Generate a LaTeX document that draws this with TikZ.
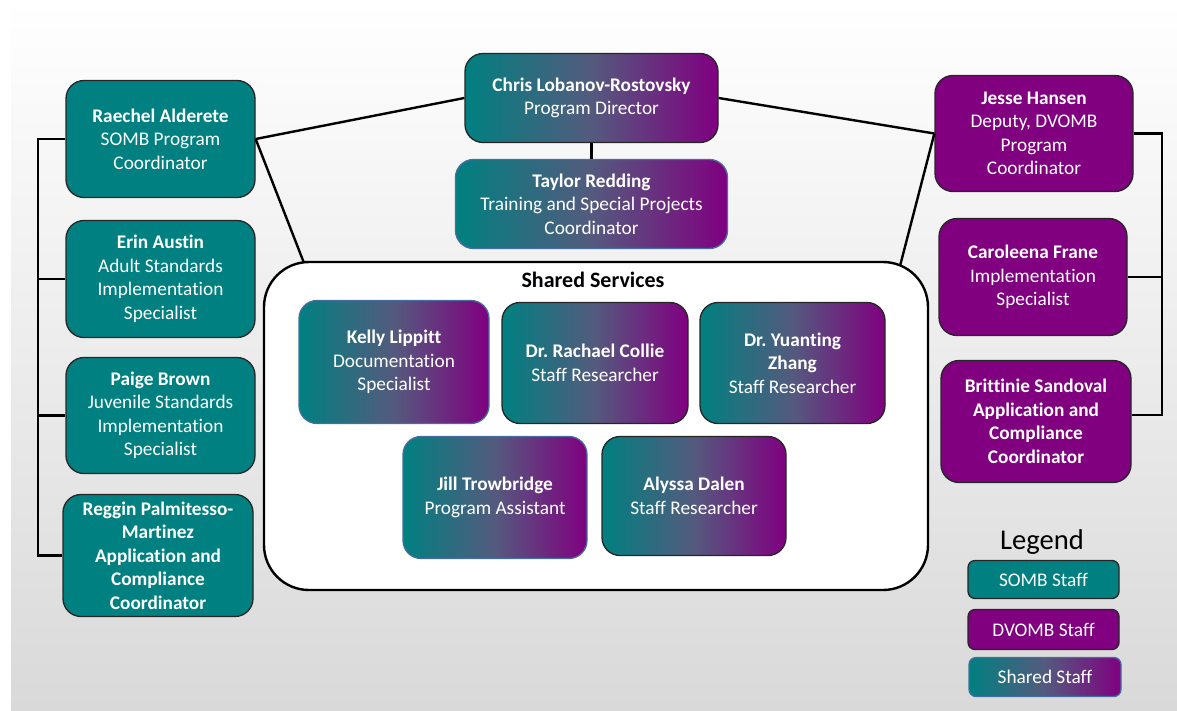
\documentclass[tikz,border=0pt]{standalone}
\usepackage{fontspec}
\setmainfont{Carlito}[Ligatures=CommonOff]
\frenchspacing
\definecolor{somb}{RGB}{0,128,128}
\definecolor{dvomb}{RGB}{128,0,128}
\definecolor{sharedmid}{RGB}{84,90,126}
\definecolor{edgeblue}{RGB}{70,110,160}
\definecolor{slidegray}{RGB}{217,217,217}
\tikzset{
  staff/.style={draw=black!85, line width=1.3pt, rounded corners=18pt, text=white,
    align=center, inner sep=0pt, font=\fontsize{19.3}{23.5}\selectfont},
  somb/.style={staff, fill=somb},
  dvomb/.style={staff, fill=dvomb},
  shared/.style={staff, left color=somb, right color=dvomb, middle color=sharedmid},
  sharedblue/.style={shared, draw=edgeblue},
  legendbox/.style={rounded corners=7pt},
  link/.style={line width=2.4pt, black},
}
\begin{document}
\begin{tikzpicture}[x=1pt,y=-1pt]
\useasboundingbox (0,0) rectangle (1177,710);
\shade[top color=white, bottom color=slidegray] (11,0) rectangle (1177,710);

% connectors
\coordinate (lbus) at (38,139);
\coordinate (rbus) at (1162,415);
\coordinate (svcL) at (304,263);
\coordinate (svcR) at (900,266);

\node [somb, minimum width=189, minimum height=117] (raechel) at (160.5,139)
  {\textbf{Raechel Alderete}\\SOMB Program\\Coordinator};
\node [somb, minimum width=189, minimum height=117] (erin) at (160.5,279)
  {\textbf{Erin Austin}\\Adult Standards\\Implementation\\Specialist};
\node [somb, minimum width=189, minimum height=116] (paige) at (160.5,415.5)
  {\textbf{Paige Brown}\\Juvenile Standards\\Implementation\\Specialist};
\node [somb, font=\fontsize{19.3}{23.5}\selectfont\bfseries, minimum width=190, minimum height=122] (reggin) at (158,555.5)
  {Reggin Palmitesso-\\Martinez\\Application and\\Compliance\\Coordinator};

\node [shared, minimum width=253, minimum height=89] (chris) at (591.5,98)
  {\textbf{Chris Lobanov-Rostovsky}\\Program Director};
\node [sharedblue, minimum width=272, minimum height=89] (taylor) at (591.5,204)
  {\textbf{Taylor Redding}\\Training and Special Projects\\Coordinator};

\node [dvomb, minimum width=198, minimum height=116] (jesse) at (1034,133.5)
  {\textbf{Jesse Hansen}\\Deputy, DVOMB\\Program\\Coordinator};
\node [dvomb, minimum width=188, minimum height=117] (caroleena) at (1033,277)
  {\textbf{Caroleena Frane}\\Implementation\\Specialist};
\node [dvomb, font=\fontsize{19.3}{23.5}\selectfont\bfseries, minimum width=190, minimum height=122] (brittinie) at (1036,421.5)
  {Brittinie Sandoval\\Application and\\Compliance\\Coordinator};

\draw [link] (raechel.west) -- (lbus) |- (reggin.west);
\draw [link] (erin.west) -- (erin.west -| lbus);
\draw [link] (paige.west) -- (paige.west -| lbus);
\draw [link] (jesse.east) -| (rbus) -- (rbus -| brittinie.east);
\draw [link] (caroleena.east) -- (caroleena.east -| rbus);
\draw [link] (chris.west) -- (raechel.east);
\draw [link] (chris.east) -- (jesse.west);
\draw [link] (chris.south) -- (taylor.north);
\draw [link] (raechel.east) -- (svcL);
\draw [link] (jesse.west) -- (svcR);

% shared services
\node [draw=black, line width=2.4pt, fill=white, rounded corners=45pt,
  minimum width=664, minimum height=328] (services) at (596,426) {};
\node [font=\fontsize{22}{26}\selectfont\bfseries] (svctitle) at (593,280) {Shared Services};

\node [sharedblue, minimum width=190, minimum height=123] (kelly) at (394,362)
  {\textbf{Kelly Lippitt}\\Documentation\\Specialist};
\node [shared, minimum width=186, minimum height=121] (collie) at (595,363)
  {\textbf{Dr. Rachael Collie}\\Staff Researcher};
\node [shared, minimum width=185, minimum height=121] (zhang) at (792.5,363)
  {\textbf{Dr. Yuanting}\\\textbf{Zhang}\\Staff Researcher};
\node [sharedblue, minimum width=184, minimum height=122] (jill) at (495,497.5)
  {\textbf{Jill Trowbridge}\\Program Assistant};
\node [shared, minimum width=184, minimum height=119] (alyssa) at (694,496)
  {\textbf{Alyssa Dalen}\\Staff Researcher};

% legend
\node [font=\fontsize{28.6}{32}\selectfont] (legend) at (1042,542) {Legend};
\node [somb, legendbox, minimum width=151, minimum height=38] (legsomb) at (1043.5,579.5) {SOMB Staff};
\node [dvomb, legendbox, minimum width=151, minimum height=40] (legdvomb) at (1043.5,629.5) {DVOMB Staff};
\node [sharedblue, legendbox, minimum width=152, minimum height=39] (legshared) at (1045,677) {Shared Staff};
\end{tikzpicture}
\end{document}
